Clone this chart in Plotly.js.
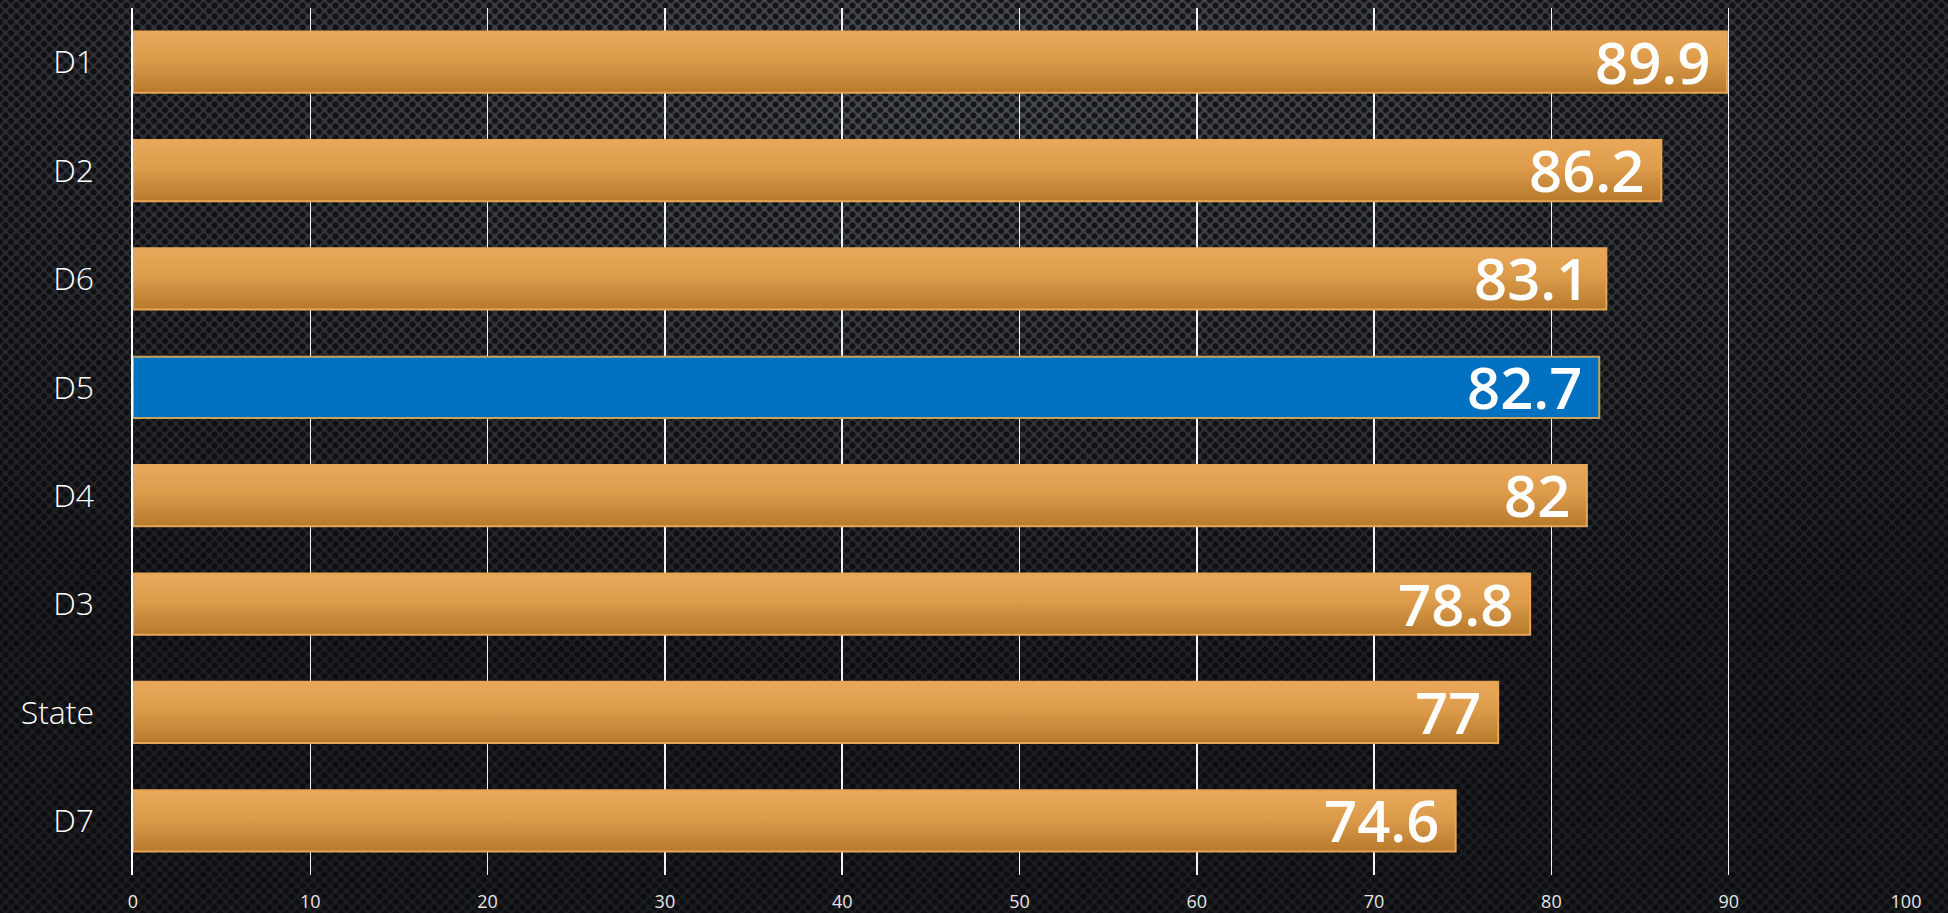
<!DOCTYPE html>
<html>
<head>
<meta charset="utf-8">
<script src="https://cdn.plot.ly/plotly-3.0.1.min.js"></script>
<style>
  html, body { margin: 0; padding: 0; width: 1948px; height: 913px; overflow: hidden; }
  body {
    background-color: #2a2d32;
    background-image:
      radial-gradient(circle, rgba(8,9,11,0.8) 2.7px, transparent 3.5px),
      radial-gradient(circle, rgba(8,9,11,0.8) 2.7px, transparent 3.5px),
      radial-gradient(ellipse 75% 70% at 50% 8%, #4a4e55 0%, #383b41 40%, #24262a 80%, #1c1d20 100%);
    background-size: 11px 11px, 11px 11px, 100% 100%;
    background-position: 0 0, 5.5px 5.5px, 0 0;
  }
  #chart { width: 1948px; height: 913px; }
</style>
</head>
<body>
<svg width="0" height="0" style="position:absolute">
  <defs>
    <linearGradient id="orangeGrad" x1="0" y1="0" x2="0" y2="1">
      <stop offset="0" stop-color="#eaa95a"/>
      <stop offset="0.45" stop-color="#dd9c4c"/>
      <stop offset="1" stop-color="#b7792b"/>
    </linearGradient>
  </defs>
</svg>
<div id="chart"></div>
<script>
const categories = ["D1", "D2", "D6", "D5", "D4", "D3", "State", "D7"];
const values = [89.9, 86.2, 83.1, 82.7, 82, 78.8, 77, 74.6];
const valueLabels = ["89.9", "86.2", "83.1", "82.7", "82", "78.8", "77", "74.6"];
const highlight = "D5";
const xTicks = [0, 10, 20, 30, 40, 50, 60, 70, 80, 90, 100];

const orange = "#d99545";
const blue = "#0070c0";

const trace = {
  type: "bar",
  orientation: "h",
  y: categories,
  x: values,
  marker: {
    color: categories.map(c => c === highlight ? blue : orange),
    line: { color: categories.map(c => c === highlight ? "#c9a25e" : "#e8a555"), width: 2 }
  },
  hoverinfo: "none",
  cliponaxis: false
};

const annotations = categories.map((c, i) => ({
  x: values[i], y: c, xref: "x", yref: "y",
  text: valueLabels[i], showarrow: false,
  xanchor: "right", yanchor: "middle", xshift: -15, yshift: 1,
  font: { family: "'Open Sans', Lato, sans-serif", size: 58, color: "#ffffff", weight: 600 }
}));

const layout = {
  width: 1948, height: 913,
  paper_bgcolor: "rgba(0,0,0,0)",
  plot_bgcolor: "rgba(0,0,0,0)",
  margin: { l: 133, r: 42, t: 8, b: 38 },
  bargap: 0.435,
  showlegend: false,
  xaxis: {
    range: [0, 100],
    tickvals: xTicks,
    ticktext: xTicks.map(String),
    showgrid: true, gridcolor: "#f2f2f2", gridwidth: 1.5,
    zeroline: false,
    showline: false,
    ticks: "",
    tickfont: { family: "'Open Sans', sans-serif", size: 18, color: "#e6e6e6" },
    ticklabelstandoff: 14,
    fixedrange: true
  },
  yaxis: {
    autorange: "reversed",
    type: "category",
    showgrid: false, zeroline: false,
    showline: true, linecolor: "#ffffff", linewidth: 2.5,
    ticks: "", ticklabelstandoff: 30,
    tickfont: { family: "'Open Sans', sans-serif", size: 32, color: "#ffffff", weight: 300 },
    fixedrange: true
  },
  annotations: annotations
};

Plotly.newPlot("chart", [trace], layout, { displayModeBar: false, staticPlot: true }).then(gd => {
  const paths = gd.querySelectorAll(".barlayer .point path");
  paths.forEach((p, i) => {
    if (categories[i] !== highlight) {
      p.style.fill = "url(#orangeGrad)";
    }
  });
});
</script>
</body>
</html>
